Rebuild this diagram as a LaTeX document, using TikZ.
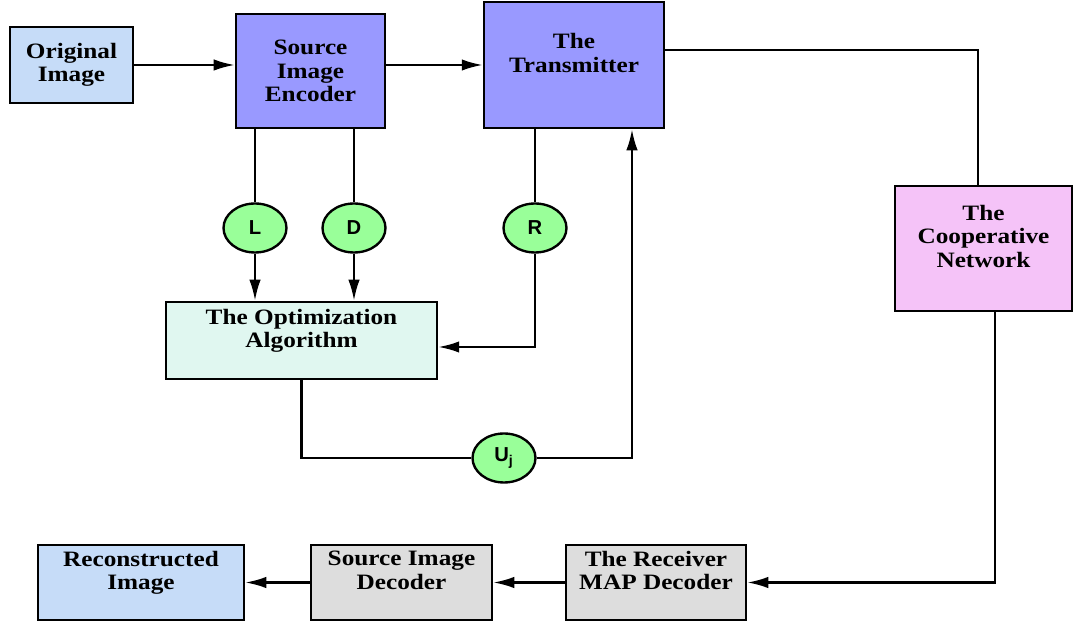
\documentclass[tikz,border=0pt]{standalone}
\usepackage{fontspec}
\setmainfont{Liberation Serif}[FakeStretch=1.15]
\newfontfamily\lblfont{Liberation Sans}
\usetikzlibrary{shapes.geometric}
\usetikzlibrary{arrows.meta}

\definecolor{imgblue}{HTML}{C6DCF8}
\definecolor{codblue}{HTML}{9999FF}
\definecolor{netpink}{HTML}{F5C3F8}
\definecolor{optmint}{HTML}{E0F7F0}
\definecolor{decgray}{HTML}{DDDDDD}
\definecolor{vargreen}{HTML}{99FF99}

\begin{document}
\begin{tikzpicture}[x=0.02cm,y=-0.02cm,line width=1.35pt,
  >={Latex[length=12pt,width=6.5pt]},
  blk/.style={draw,rectangle,align=center,inner sep=2pt,
    font=\fontsize{12.5}{13.4}\selectfont\bfseries},
  up/.style={text depth=14pt},
  var/.style={draw,ellipse,fill=vargreen,minimum width=1.26cm,minimum height=0.98cm,
    inner sep=0pt,font=\lblfont\bfseries\fontsize{11.5}{13}\selectfont}]
  \useasboundingbox (0,0) rectangle (1075,624);

  \node[blk,fill=imgblue,minimum width=2.46cm,minimum height=1.52cm] (orig) at (71.5,65) {Original\\Image};
  \node[blk,fill=codblue,minimum width=2.98cm,minimum height=2.28cm] (enc) at (310.5,71) {Source\\Image\\Encoder};
  \node[blk,up,fill=codblue,minimum width=3.6cm,minimum height=2.52cm] (tx) at (574,65) {The\\Transmitter};
  \node[blk,up,fill=netpink,minimum width=3.54cm,minimum height=2.5cm] (coop) at (983.5,248.5) {The\\Cooperative\\Network};
  \node[blk,up,fill=optmint,minimum width=5.42cm,minimum height=1.54cm] (opt) at (301.5,340.5) {The Optimization\\Algorithm};
  \node[blk,up,fill=imgblue,minimum width=4.12cm,minimum height=1.5cm] (rec) at (141,582.5) {Reconstructed\\Image};
  \node[blk,up,fill=decgray,minimum width=3.62cm,minimum height=1.5cm] (dec) at (401.5,582.5) {Source Image\\Decoder};
  \node[blk,up,fill=decgray,minimum width=3.6cm,minimum height=1.5cm] (recv) at (656,582.5) {The Receiver\\MAP Decoder};

  \node[var] (L) at (255,228) {L};
  \node[var] (D) at (354,228) {D};
  \node[var] (R) at (535,228) {R};
  \node[var] (U) at (504,458) {U\textsubscript{j}};

  \draw[->] (orig.east) -- (orig.east -| enc.west);
  \draw[->] (enc.east |- tx.west) -- (tx.west);
  \draw ([yshift=0.3cm]tx.east) -| ([xshift=-0.11cm]coop.north);
  \draw (L |- enc.south) -- (L.north);
  \draw[->] (L.south) -- (L |- opt.north);
  \draw (D |- enc.south) -- (D.north);
  \draw[->] (D.south) -- (D |- opt.north);
  \draw (R |- tx.south) -- (R.north);
  \draw[->] (R.south) |- ([yshift=-0.13cm]opt.east);
  \draw (opt.south) |- (U.west);
  \draw[->] (U.east) -| ([xshift=1.16cm]tx.south);
  \draw[->] ([xshift=0.23cm]coop.south) |- (recv.east);
  \draw[->] (recv.west) -- (dec.east);
  \draw[->] (dec.west) -- (rec.east);
\end{tikzpicture}
\end{document}
